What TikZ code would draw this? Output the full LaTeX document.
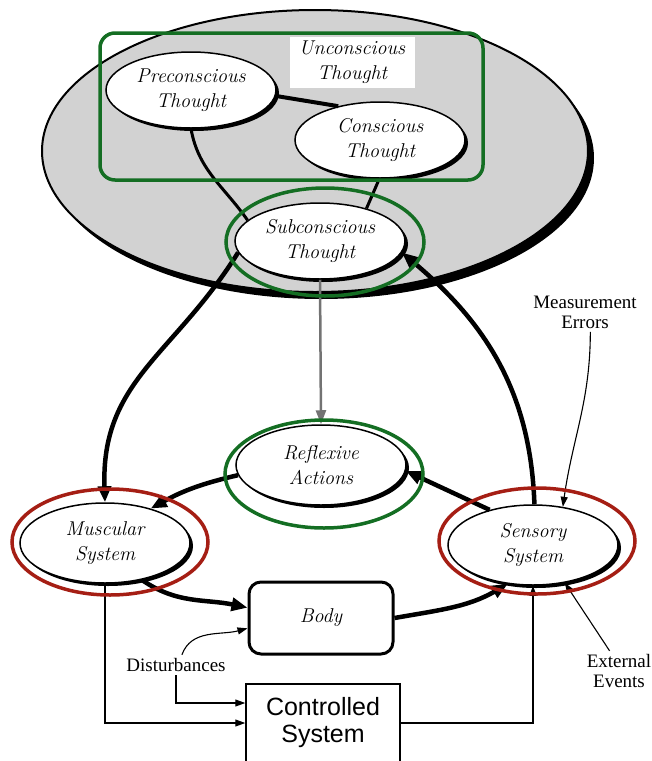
\documentclass[tikz,border=0pt]{standalone}
\usepackage{fontspec}
\newfontfamily\timesf{Liberation Serif}
\newfontfamily\helvf{Liberation Sans}
\usetikzlibrary{arrows.meta,shapes.geometric,shadows,calc}
\definecolor{verde}{RGB}{20,110,35}
\definecolor{vermelho}{RGB}{165,30,20}

\begin{document}
\begin{tikzpicture}[x=1pt, y=1pt,
    oval/.style={draw, ellipse, fill=white, line width=1.5pt, minimum width=170pt, minimum height=76pt, inner sep=0pt, align=center,
        font=\fontsize{20}{25}\selectfont\itshape, drop shadow={shadow xshift=3pt, shadow yshift=-3pt, fill=black, opacity=1}},
    grossa/.style={line width=4.5pt, -{Triangle[length=16pt, width=13pt]}},
    fina/.style={line width=1.1pt, -{Triangle[length=10pt, width=7pt]}},
    rotulo/.style={align=center, font=\timesf\fontsize{19}{20}\selectfont},
    anelverde/.style={draw=verde, ellipse, line width=3.5pt, minimum width=198pt, minimum height=108pt},
    anelverm/.style={draw=vermelho, ellipse, line width=3.5pt, minimum width=196pt, minimum height=106pt}]

\useasboundingbox (0,0) rectangle (652,-761);

% the mind
\fill (321,-158) ellipse [x radius=273, y radius=141];
\draw[fill=gray!35, line width=2pt] (315,-151) ellipse [x radius=273, y radius=141];

\node[fill=white, minimum width=125pt, minimum height=51pt, align=center, font=\fontsize{20}{25}\selectfont\itshape] (unc) at (352,-62) {Unconscious\\Thought};
\node[oval] (pre) at (191,-90) {Preconscious\\Thought};
\node[oval] (con) at (380,-140) {Conscious\\Thought};
\node[oval] (sub) at (320,-241) {Subconscious\\Thought};

\draw[line width=4pt] (pre.-4) -- (con.141);
\draw[line width=3pt] (pre.south) to[out=-80, in=125] (sub.164);
\draw[line width=3pt] (con.-91) -- (sub.35);

% lower loop
\node[oval, minimum height=80pt] (refl) at (321,-465) {Reflexive\\Actions};
\node[oval, minimum height=80pt] (mus) at (105,-543) {Muscular\\System};
\node[oval, minimum height=80pt] (sen) at (533,-545) {Sensory\\System};
\node[draw, rounded corners=12pt, line width=3pt, minimum width=144pt, minimum height=72pt, font=\fontsize{20}{25}\selectfont\itshape] (body) at (321,-618) {Body};
\node[draw, line width=1.5pt, minimum width=154pt, minimum height=78pt, align=center, font=\helvf\fontsize{25}{27}\selectfont] (ctrl) at (323,-723) {Controlled\\System};

% outside inputs
\node[rotulo] (meas) at (585,-312) {Measurement\\Errors};
\node[rotulo] (dist) at (176,-665) {Disturbances};
\node[rotulo] (ext) at (619,-671) {External\\Events};

\draw[grossa] (sub.188) to[out=238, in=92, looseness=1.1] (mus.north);
\draw[grossa] (sen.88) to[out=92, in=-40] (sub.-8);
\draw[line width=2.5pt, black!55, -{Triangle[length=14pt, width=10pt]}] (sub.south) -- (refl.north);
\draw[grossa] (refl.187) to[bend right=8] (mus.37);
\draw[grossa] (sen.141) -- (refl.-4);
\draw[grossa] (mus.-45) to[out=-35, in=168] (body.172);
\draw[grossa] (body.east) to[out=10, in=210] (sen.237);

\draw[fina] (meas.-75) to[out=-90, in=82] (sen.52);
\draw[fina] (ext.115) -- (sen.-50);
\draw[fina] (dist.60) to[out=70, in=195] (body.188);
\draw[fina] (dist.south) |- ($(ctrl.west)+(0,20)$);
\draw[fina] (mus.south) |- (ctrl.west);
\draw[fina] (ctrl.east) -| (sen.south);

% highlights
\node[draw=verde, line width=3.5pt, rounded corners=15pt, minimum width=383pt, minimum height=147pt] (mindbox) at (291.5,-106.5) {};
\node[anelverde] (subring) at (325,-242) {};
\node[anelverde] (reflring) at (324,-474) {};
\node[anelverm] (musring) at (110,-542) {};
\node[anelverm] (senring) at (537,-541) {};
\end{tikzpicture}
\end{document}
